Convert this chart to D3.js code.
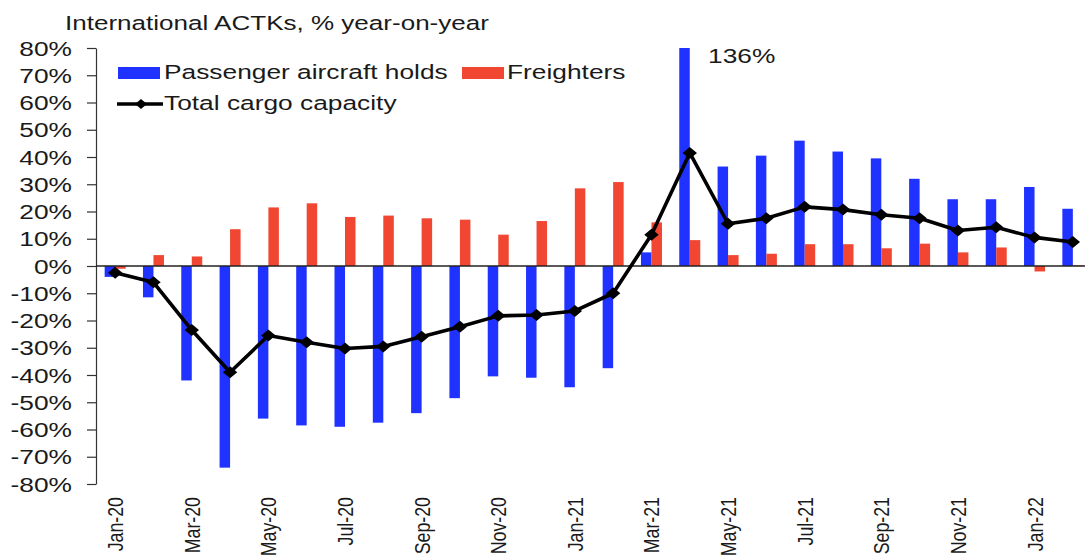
<!DOCTYPE html>
<html>
<head>
<meta charset="utf-8">
<script src="https://cdn.jsdelivr.net/npm/d3@7"></script>
<style>
  html, body { margin: 0; padding: 0; background: #fff; }
  svg { display: block; }
  text { font-family: "Liberation Sans", Arial, sans-serif; fill: #1a1a1a; }
</style>
</head>
<body>
<svg id="chart" width="1085" height="558"></svg>
<script>
const months = ["Jan-20","Feb-20","Mar-20","Apr-20","May-20","Jun-20","Jul-20","Aug-20","Sep-20","Oct-20","Nov-20","Dec-20",
  "Jan-21","Feb-21","Mar-21","Apr-21","May-21","Jun-21","Jul-21","Aug-21","Sep-21","Oct-21","Nov-21","Dec-21","Jan-22","Feb-22"];
const passenger = [-4,-11.5,-42,-74,-56,-58.5,-59,-57.5,-54,-48.5,-40.5,-41,-44.5,-37.5,5,136,36.5,40.5,46,42,39.5,32,24.5,24.5,29,21];
const freighters = [-1,4,3.5,13.5,21.5,23,18,18.5,17.5,17,11.5,16.5,28.5,30.8,16,9.5,4,4.5,8,8,6.5,8.2,5,6.8,-2,0.2];
const total = [-2.5,-6,-23.5,-39,-25.5,-28,-30.3,-29.5,-26,-22.3,-18.3,-18,-16.5,-10,11.5,41.5,15.5,17.5,21.7,20.7,18.8,17.5,13,14.2,10.5,8.8];
const yTicks = [80,70,60,50,40,30,20,10,0,-10,-20,-30,-40,-50,-60,-70,-80];
const xLabels = months.filter((m, i) => i % 2 === 0);

const svg = d3.select("#chart");
const blue = "#1f32ff", red = "#f04632";
const SX = 1.35; // horizontal stretch of the text face

const x = d3.scaleBand().domain(months).range([96, 1092]);
const y = d3.scaleLinear().domain([-80, 80]).range([484, 48]).clamp(true);
const bw = 10.5;
const cx = d => x(d) + x.bandwidth() / 2;

function wideText(g, tx, ty, str, size, anchor) {
  return g.append("text")
    .attr("transform", `translate(${tx},${ty}) scale(${SX},1)`)
    .attr("font-size", size)
    .attr("text-anchor", anchor || "start")
    .text(str);
}

// title
wideText(svg, 65, 30, "International ACTKs, % year-on-year", 19.3);

// y axis
const yAxis = d3.axisLeft(y).tickValues(yTicks).tickFormat(d => d + "%").tickSize(9).tickSizeOuter(0);
const gy = svg.append("g").attr("transform", "translate(96,0)").call(yAxis);
gy.select(".domain").attr("stroke", "#333").attr("stroke-width", 1.2);
gy.selectAll(".tick line").attr("stroke", "#333").attr("stroke-width", 1.2);
gy.selectAll(".tick text").attr("font-size", 19.5).attr("x", 0).attr("dy", "0.36em").attr("fill", "#1a1a1a")
  .attr("text-anchor", "end")
  .attr("transform", `translate(-24,0) scale(${SX},1)`)
  .style("font-family", "'Liberation Sans', Arial, sans-serif");

// bars
svg.append("g").selectAll("rect").data(months).join("rect")
  .attr("x", d => cx(d) - bw)
  .attr("width", bw)
  .attr("y", (d, i) => Math.min(y(passenger[i]), y(0)))
  .attr("height", (d, i) => Math.abs(y(passenger[i]) - y(0)))
  .attr("fill", blue);
svg.append("g").selectAll("rect").data(months).join("rect")
  .attr("x", d => cx(d))
  .attr("width", bw)
  .attr("y", (d, i) => Math.min(y(freighters[i]), y(0)))
  .attr("height", (d, i) => Math.abs(y(freighters[i]) - y(0)))
  .attr("fill", red);

// zero line
svg.append("line").attr("x1", 96).attr("x2", 1085).attr("y1", y(0)).attr("y2", y(0))
  .attr("stroke", "#222").attr("stroke-width", 1.3);

// x axis labels
const xAxis = d3.axisBottom(x).tickValues(xLabels).tickSize(0);
const gx = svg.append("g").attr("transform", "translate(0,497)").call(xAxis);
gx.select(".domain").remove();
gx.selectAll(".tick text")
  .attr("font-size", 17.8).attr("fill", "#1a1a1a")
  .style("font-family", "'Liberation Sans', Arial, sans-serif")
  .attr("text-anchor", "end")
  .attr("transform", "scale(1.25,1) rotate(-90)")
  .attr("x", 0).attr("y", 0).attr("dy", "0.36em");

// total line
const line = d3.line().x(d => cx(d.m)).y(d => y(d.v));
const tdata = months.map((m, i) => ({ m, v: total[i] }));
svg.append("path").datum(tdata).attr("d", line).attr("fill", "none").attr("stroke", "#000").attr("stroke-width", 3.6)
  .attr("stroke-linejoin", "round");
const wideDiamond = {
  draw(ctx, size) {
    const h = Math.sqrt(size) / 2, w = h * 1.2;
    ctx.moveTo(0, -h); ctx.lineTo(w, 0); ctx.lineTo(0, h); ctx.lineTo(-w, 0); ctx.closePath();
  }
};
const diamond = d3.symbol().type(wideDiamond).size(144);
svg.append("g").selectAll("path").data(tdata).join("path")
  .attr("d", diamond).attr("transform", d => `translate(${cx(d.m)},${y(d.v)})`).attr("fill", "#000");

// 136% label
wideText(svg, 708, 63, passenger[15] + "%", 19.5);

// legend
const lg = svg.append("g");
lg.append("rect").attr("x", 118).attr("y", 67).attr("width", 42).attr("height", 12).attr("fill", blue);
wideText(lg, 164, 79, "Passenger aircraft holds", 19.5);
lg.append("rect").attr("x", 462).attr("y", 67).attr("width", 42).attr("height", 12).attr("fill", red);
wideText(lg, 507, 79, "Freighters", 19.5);
lg.append("line").attr("x1", 117).attr("x2", 163).attr("y1", 104).attr("y2", 104).attr("stroke", "#000").attr("stroke-width", 3.6);
lg.append("path").attr("d", d3.symbol().type(wideDiamond).size(100)).attr("transform", "translate(141,104)").attr("fill", "#000");
wideText(lg, 164, 110, "Total cargo capacity", 19.5);
</script>
</body>
</html>
